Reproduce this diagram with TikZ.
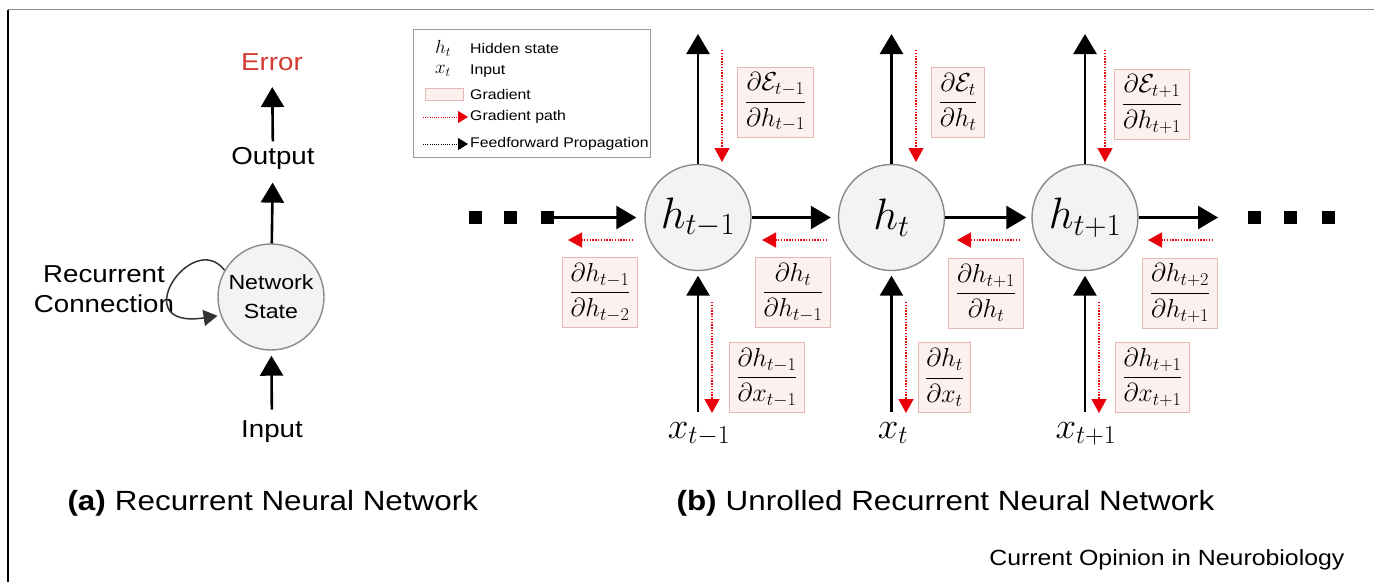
\RequirePackage{fix-cm}
\documentclass[tikz,border=0pt]{standalone}
\usepackage[no-math]{fontspec}
\setmainfont{Liberation Sans}[FakeStretch=1.13]
\usetikzlibrary{arrows.meta}
\definecolor{gfill}{HTML}{FDF1F0}
\definecolor{gdraw}{HTML}{E6B8B4}
\definecolor{cfill}{HTML}{F3F3F3}
\definecolor{cdraw}{HTML}{8A8A8A}
\definecolor{gred}{HTML}{E8000B}
\definecolor{errred}{HTML}{D23A32}
\definecolor{framegray}{HTML}{8C8C8C}
\definecolor{legdraw}{HTML}{9A9A9A}
\tikzset{
  blk/.style={line width=2.6pt, -{Triangle[length=20pt,width=23pt]}},
  grad/.style={gred, line width=1.4pt, dash pattern=on 1.4pt off 1.4pt, -{Triangle[length=14pt,width=15pt]}},
  hnode/.style={circle, draw=cdraw, fill=cfill, line width=1.4pt, minimum size=106pt, inner sep=0pt, font=\fontsize{44}{50}\selectfont},
  gbox/.style={draw=gdraw, fill=gfill, line width=0.9pt, inner xsep=7pt, inner ysep=0pt, minimum height=70pt, font=\fontsize{26}{30}\selectfont},
  sq/.style={fill=black, minimum size=13pt, inner sep=0pt},
  xl/.style={font=\fontsize{37}{42}\selectfont, anchor=base},
  lbl/.style={font=\fontsize{24.5}{30}\selectfont},
  legtxt/.style={font=\fontsize{14}{16}\selectfont, anchor=west, inner sep=0pt},
  legm/.style={font=\fontsize{19}{22}\selectfont},
  captxt/.style={font=\fontsize{27.8}{32}\selectfont, anchor=west}
}
\begin{document}
\begin{tikzpicture}[x=1pt,y=-1pt]
\useasboundingbox (0,0) rectangle (1374,582);
% frame
\coordinate (fa) at (8,9.5);
\coordinate (fb) at (1374,9.5);
\coordinate (fc) at (8,582);
\draw[framegray, line width=1.5pt] (fa) -- (fb);
\draw[black, line width=2pt] (fa) -- (fc);

% ---------- panel (a)
\node[circle, draw=cdraw, fill=cfill, line width=1.4pt, minimum size=106pt, inner sep=0pt, align=center, font=\fontsize{20.5}{29}\selectfont] (ns) at (271,297) {Network\\State};
\node[lbl, text=errred] (err) at (272,62) {Error};
\node[lbl] (out) at (273,158) {Output};
\node[lbl] (inp) at (272,432) {Input};
\node[lbl, align=center, font=\fontsize{24.5}{30}\selectfont] (rc) at (104,289) {Recurrent\\Connection};
\draw[blk, shorten >=10pt] (ns) -- (out);
\draw[blk, shorten <=2pt, shorten >=13pt] (out) -- (err);
\draw[blk, shorten <=8pt, shorten >=5pt] (inp) -- (ns);
\draw[black!80, line width=1.5pt, -{Triangle[length=14pt,width=16pt]}, shorten >=3pt] (ns.150) .. controls (192,228) and (124,330) .. (ns.200);

% ---------- panel (b)
\node[hnode] (h1) at (698,217.5) {$h_{t-1}$};
\node[hnode] (h2) at (891.5,217.5) {$h_t$};
\node[hnode] (h3) at (1085,217.5) {$h_{t+1}$};

\node[sq] (dl1) at (475,217.5) {};
\node[sq] (dl2) at (510,217.5) {};
\node[sq] (dl3) at (547,217.5) {};
\node[sq] (dr1) at (1254,217.5) {};
\node[sq] (dr2) at (1290,217.5) {};
\node[sq] (dr3) at (1328,217.5) {};
\coordinate (re) at (1218,217.5);

\draw[blk, shorten >=8pt] (dl3) -- (h1);
\draw[blk, shorten >=7pt] (h1) -- (h2);
\draw[blk, shorten >=5pt] (h2) -- (h3);
\draw[blk] (h3) -- (re);

% up arrows to the top
\coordinate (t1) at (698,34);
\coordinate (t2) at (891.5,34);
\coordinate (t3) at (1085,34);
\draw[blk] (h1) -- (t1);
\draw[blk] (h2) -- (t2);
\draw[blk] (h3) -- (t3);

% inputs
\node[xl] (x1) at (699,438) {$x_{t-1}$};
\node[xl] (x2) at (893,438) {$x_t$};
\node[xl] (x3) at (1086,438) {$x_{t+1}$};
\coordinate (b1) at (698,412);
\coordinate (b2) at (891.5,412);
\coordinate (b3) at (1085,412);
\draw[blk, shorten >=4.5pt] (b1) -- (h1);
\draw[blk, shorten >=4.5pt] (b2) -- (h2);
\draw[blk, shorten >=4.5pt] (b3) -- (h3);

% gradient paths: from above
\coordinate (ga1) at (722,50);   \coordinate (ge1) at (722,162);
\coordinate (ga2) at (916,50);   \coordinate (ge2) at (916,162);
\coordinate (ga3) at (1105,50);  \coordinate (ge3) at (1105,162);
\draw[grad] (ga1) -- (ge1);
\draw[grad] (ga2) -- (ge2);
\draw[grad] (ga3) -- (ge3);
% gradient paths: horizontal
\coordinate (gh1a) at (633,240);  \coordinate (gh1b) at (568,240);
\coordinate (gh2a) at (827,240);  \coordinate (gh2b) at (762,240);
\coordinate (gh3a) at (1020,240); \coordinate (gh3b) at (957,240);
\coordinate (gh4a) at (1213,240); \coordinate (gh4b) at (1148,240);
\draw[grad] (gh1a) -- (gh1b);
\draw[grad] (gh2a) -- (gh2b);
\draw[grad] (gh3a) -- (gh3b);
\draw[grad] (gh4a) -- (gh4b);
% gradient paths: to inputs
\coordinate (gb1a) at (712,302);  \coordinate (gb1b) at (712,413);
\coordinate (gb2a) at (906,302);  \coordinate (gb2b) at (906,413);
\coordinate (gb3a) at (1099,302); \coordinate (gb3b) at (1099,413);
\draw[grad] (gb1a) -- (gb1b);
\draw[grad] (gb2a) -- (gb2b);
\draw[grad] (gb3a) -- (gb3b);

% gradient boxes
\node[gbox] (g1) at (775.5,102) {$\displaystyle\frac{\partial\mathcal{E}_{t-1}}{\partial h_{t-1}}$};
\node[gbox] (g2) at (958,102) {$\displaystyle\frac{\partial\mathcal{E}_{t}}{\partial h_{t}}$};
\node[gbox] (g3) at (1152,104) {$\displaystyle\frac{\partial\mathcal{E}_{t+1}}{\partial h_{t+1}}$};
\node[gbox] (g4) at (600,292.5) {$\displaystyle\frac{\partial h_{t-1}}{\partial h_{t-2}}$};
\node[gbox] (g5) at (793,292.5) {$\displaystyle\frac{\partial h_{t}}{\partial h_{t-1}}$};
\node[gbox] (g6) at (986,293) {$\displaystyle\frac{\partial h_{t+1}}{\partial h_{t}}$};
\node[gbox] (g7) at (1180,293) {$\displaystyle\frac{\partial h_{t+2}}{\partial h_{t+1}}$};
\node[gbox] (g8) at (767,377.5) {$\displaystyle\frac{\partial h_{t-1}}{\partial x_{t-1}}$};
\node[gbox] (g9) at (944.5,377.5) {$\displaystyle\frac{\partial h_{t}}{\partial x_{t}}$};
\node[gbox] (g10) at (1152.5,377.5) {$\displaystyle\frac{\partial h_{t+1}}{\partial x_{t+1}}$};

% legend
\node[draw=legdraw, line width=1pt, minimum width=237pt, minimum height=128pt, inner sep=0pt] (leg) at (531.5,93) {};
\node[legm] (lh) at (443,48) {$h_t$};
\node[legm] (lx) at (443,71) {$x_t$};
\node[draw=gdraw, fill=gfill, line width=0.9pt, minimum width=38pt, minimum height=12pt, inner sep=0pt] (lg) at (444,94) {};
\coordinate (lra) at (423,117); \coordinate (lrb) at (468,117);
\coordinate (lba) at (423,144); \coordinate (lbb) at (468,144);
\draw[gred, line width=1pt, dash pattern=on 1pt off 1.2pt, -{Triangle[length=10pt,width=12pt]}] (lra) -- (lrb);
\draw[black, line width=1pt, dash pattern=on 1pt off 1.2pt, -{Triangle[length=10pt,width=12pt]}] (lba) -- (lbb);
\node[legtxt] (lt1) at (470,48) {Hidden state};
\node[legtxt] (lt2) at (470,71) {Input};
\node[legtxt] (lt3) at (470,94) {Gradient};
\node[legtxt] (lt4) at (470,117) {Gradient path};
\node[legtxt] (lt5) at (470,144) {Feedforward Propagation};

% captions
\node[captxt] (capa) at (64,503) {\textbf{(a)}\hspace{9pt}Recurrent Neural Network};
\node[captxt] (capb) at (673,503) {\textbf{(b)}\hspace{9pt}Unrolled Recurrent Neural Network};
\node[anchor=east, font=\fontsize{22}{26}\selectfont] (cop) at (1348,560) {Current Opinion in Neurobiology};
\end{tikzpicture}
\end{document}
